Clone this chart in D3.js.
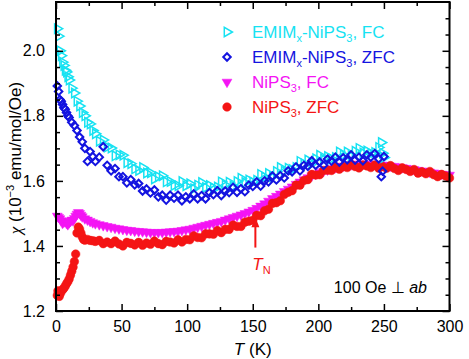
<!DOCTYPE html>
<html>
<head>
<meta charset="utf-8">
<script src="https://cdn.jsdelivr.net/npm/d3@7"></script>
<style>
  body { margin: 0; background: #fff; }
  text { font-family: "Liberation Sans", Arial, Helvetica, sans-serif; }
</style>
</head>
<body>
<div id="wrapper"></div>
<script>

// data (chi in 10^-3 emu/mol/Oe vs T in K)

const tEmim = [1,2,3,4,5,6,7,8,9,10,12,14,16,18,20,22,24,26,28,30,
  33,36,39,42,45,48,51,54,57,60,63,66,69,72,75,78,81,84,87,90,
  93,96,99,102,105,108,111,114,117,120,123,126,129,132,135,138,141,144,147,150,
  153,156,159,162,165,168,171,174,177,180,183,186,189,192,195,198,201,204,207,210,
  213,216,219,222,225,228,231,234,237,240,243,246,248,249,250];

const emimFC = [2.068,2.045,2.000,1.985,1.965,1.955,1.940,1.935,1.920,1.910,
  1.885,1.870,1.845,1.830,1.810,1.800,1.780,1.775,1.755,1.745,
  1.722,1.726,1.704,1.701,1.677,1.680,1.679,1.656,1.653,1.637,
  1.632,1.641,1.624,1.625,1.606,1.613,1.616,1.597,1.598,1.586,
  1.585,1.598,1.585,1.591,1.576,1.587,1.595,1.580,1.586,1.578,
  1.581,1.597,1.587,1.596,1.584,1.598,1.608,1.595,1.603,1.597,
  1.602,1.620,1.612,1.623,1.613,1.629,1.641,1.630,1.639,1.635,
  1.641,1.660,1.653,1.664,1.653,1.668,1.679,1.667,1.675,1.668,
  1.672,1.689,1.680,1.689,1.677,1.691,1.700,1.686,1.692,1.684,
  1.687,1.703,1.718,1.685,1.672];

const emimZFC = [1.892,1.875,1.850,1.845,1.835,1.825,1.820,1.810,1.800,1.795,
  1.780,1.770,1.755,1.735,1.720,1.700,1.660,1.690,1.675,1.660,
  1.673,1.705,1.648,1.631,1.638,1.613,1.613,1.594,1.604,1.588,
  1.592,1.569,1.575,1.563,1.572,1.551,1.556,1.541,1.556,1.547,
  1.556,1.539,1.551,1.545,1.560,1.545,1.555,1.545,1.564,1.558,
  1.570,1.555,1.569,1.564,1.580,1.565,1.576,1.567,1.587,1.583,
  1.597,1.584,1.600,1.597,1.615,1.603,1.616,1.609,1.631,1.628,
  1.643,1.631,1.648,1.645,1.662,1.648,1.658,1.648,1.667,1.661,
  1.673,1.658,1.671,1.665,1.680,1.664,1.673,1.662,1.680,1.673,
  1.684,1.668,1.613,1.630,1.675];

const tNiFC = [1,2,3,4,5,6,7,8,9,10,11,12,13,14,15,16,17,18,19,20,
  22,24,26,28,30,
  33,36,39,42,45,48,51,54,57,60,63,66,69,72,75,78,81,84,87,90,
  93,96,99,102,105,108,111,114,117,120,123,126,129,132,135,138,141,144,147,150,
  153,156,159,162,165,168,171,174,177,180,183,186,189,192,195,198,201,204,207,210,
  213,216,219,222,225,228,231,234,237,240,243,246,249,252,255,258,261,264,267,270,
  273,276,279,282,285,288,291,294,297,300];

const niFC = [1.492,1.488,1.484,1.478,1.470,1.474,1.476,1.470,1.466,1.472,
  1.476,1.480,1.478,1.485,1.492,1.498,1.503,1.500,1.495,1.490,
  1.484,1.480,1.476,1.472,1.469,
  1.466,1.463,1.460,1.458,1.455,1.453,1.451,1.449,1.448,1.446,
  1.445,1.444,1.443,1.442,1.442,1.442,1.442,1.443,1.444,1.445,
  1.446,1.448,1.450,1.452,1.455,1.458,1.461,1.464,1.467,1.470,
  1.473,1.476,1.480,1.484,1.488,1.492,1.496,1.500,1.505,1.510,
  1.516,1.523,1.530,1.538,1.546,1.553,1.560,1.568,1.575,1.582,
  1.590,1.597,1.604,1.610,1.616,1.621,1.626,1.630,1.634,1.638,
  1.641,1.644,1.646,1.648,1.650,1.651,1.652,1.652,1.652,1.652,
  1.651,1.650,1.649,1.648,1.646,1.645,1.643,1.641,1.639,1.637,
  1.635,1.633,1.631,1.629,1.627,1.625,1.623,1.621,1.620,1.618];

const tNiZFC = [1,1.5,2,2.5,3,3.5,4,5,6,7,8,9,10,11,12,13,14,15,16,17,18,19,20,21,
  22,24,26,28,30,
  33,36,39,42,45,48,51,54,57,60,63,66,69,72,75,78,81,84,87,90,
  93,96,99,102,105,108,111,114,117,120,123,126,129,132,135,138,141,144,147,150,
  153,156,159,162,165,168,171,174,177,180,183,186,189,192,195,198,201,204,207,210,
  213,216,219,222,225,228,231,234,237,240,243,246,249,252,255,258,261,264,267,270,
  273,276,279,282,285,288,291,294,297,300];

const niZFC = [1.248,1.262,1.252,1.245,1.258,1.255,1.262,
  1.265,1.270,1.276,1.284,1.290,1.298,1.310,1.322,1.335,1.352,1.375,1.440,1.458,1.452,1.440,1.428,1.420,
  1.418,1.420,1.417,1.416,1.414,
  1.417,1.407,1.412,1.407,1.415,1.406,1.400,1.411,1.408,1.403,
  1.411,1.402,1.409,1.405,1.415,1.407,1.404,1.414,1.412,1.409,
  1.419,1.412,1.420,1.419,1.431,1.426,1.425,1.437,1.437,1.436,
  1.447,1.441,1.451,1.451,1.464,1.460,1.460,1.473,1.476,1.479,
  1.494,1.493,1.508,1.513,1.531,1.533,1.539,1.558,1.565,1.570,
  1.587,1.587,1.601,1.604,1.620,1.618,1.619,1.632,1.633,1.632,
  1.643,1.636,1.644,1.641,1.651,1.644,1.640,1.649,1.646,1.641,
  1.649,1.639,1.644,1.639,1.647,1.638,1.632,1.640,1.635,1.629,
  1.635,1.624,1.628,1.622,1.629,1.619,1.613,1.620,1.615,1.609];

const xMajorTicks = [0, 50, 100, 150, 200, 250, 300];
const xMinorTicks = [25, 75, 125, 175, 225, 275];
const yMajorTicks = [1.2, 1.4, 1.6, 1.8, 2.0];
const yMinorTicks = [1.25, 1.3, 1.35, 1.45, 1.5, 1.55, 1.65, 1.7, 1.75, 1.85, 1.9, 1.95, 2.05, 2.1];

const tNeel = 152;

// series setup (drawing order: NiPS3 first, EMIM on top)

const series = [
  { name: "NiPS3 FC", t: tNiFC, v: niFC, color: "#f414f4", shape: "tri-down", fill: true },
  { name: "NiPS3 ZFC", t: tNiZFC, v: niZFC, color: "#f41414", shape: "circle", fill: true },
  { name: "EMIM FC", t: tEmim, v: emimFC, color: "#16e2f2", shape: "tri-right", fill: false },
  { name: "EMIM ZFC", t: tEmim, v: emimZFC, color: "#1414e0", shape: "diamond", fill: false }
];

// chart dimensions

const dms = {
  width: 469,
  height: 359,
  margins: { top: 2, right: 19.5, bottom: 48, left: 56 }
};
dms.innerWidth = dms.width - dms.margins.left - dms.margins.right;
dms.innerHeight = dms.height - dms.margins.top - dms.margins.bottom;

const svg = d3.select("#wrapper")
  .append("svg")
    .attr("width", dms.width)
    .attr("height", dms.height);

const inner = svg.append("g")
  .attr("transform", `translate(${dms.margins.left},${dms.margins.top})`);

// scales

const xScale = d3.scaleLinear().domain([0, 300]).range([0, dms.innerWidth]);
const yScale = d3.scaleLinear().domain([1.2, 2.15]).range([dms.innerHeight, 0]);

// symbols

const symbolPath = {
  "tri-down": d3.symbol(d3.symbolTriangle, 42)(),
  "tri-right": d3.symbol(d3.symbolTriangle, 38)(),
  "circle": d3.symbol(d3.symbolCircle, 58)(),
  "diamond": d3.symbol(d3.symbolSquare, 28)()
};
const symbolRotate = { "tri-down": 180, "tri-right": 90, "circle": 0, "diamond": 45 };

function placeMarks(sel, s) {
  sel.attr("d", symbolPath[s.shape])
    .attr("fill", s.fill ? s.color : "none")
    .attr("stroke", s.color)
    .attr("stroke-width", s.fill ? 0.5 : (s.shape === "diamond" ? 2 : 1.5));
}

series.forEach(s => {
  const pts = s.t.map((t, i) => ({ t, v: s.v[i] }));
  inner.append("g")
    .selectAll("path")
    .data(pts)
    .join("path")
      .attr("transform", d => `translate(${xScale(d.t)},${yScale(d.v)}) rotate(${symbolRotate[s.shape]})`)
      .call(placeMarks, s);
});

// axes

function styleAxis(g) {
  g.select(".domain").remove();
  g.selectAll(".tick line").attr("stroke", "#000").attr("stroke-width", 1.5);
  g.selectAll(".tick text").attr("fill", "#000").attr("font-size", 16)
    .attr("font-family", '"Liberation Sans", Arial, sans-serif');
}

inner.append("g")
  .attr("transform", `translate(0,${dms.innerHeight})`)
  .call(d3.axisBottom(xScale).tickValues(xMajorTicks).tickSize(-7).tickPadding(10).tickFormat(d3.format("d")))
  .call(styleAxis);
inner.append("g")
  .attr("transform", `translate(0,${dms.innerHeight})`)
  .call(d3.axisBottom(xScale).tickValues(xMinorTicks).tickSize(-4).tickFormat(""))
  .call(styleAxis);
inner.append("g")
  .call(d3.axisTop(xScale).tickValues(xMajorTicks).tickSize(-7).tickFormat(""))
  .call(styleAxis);
inner.append("g")
  .call(d3.axisTop(xScale).tickValues(xMinorTicks).tickSize(-4).tickFormat(""))
  .call(styleAxis);

inner.append("g")
  .call(d3.axisLeft(yScale).tickValues(yMajorTicks).tickSize(-7).tickPadding(11).tickFormat(d3.format(".1f")))
  .call(styleAxis);
inner.append("g")
  .call(d3.axisLeft(yScale).tickValues(yMinorTicks).tickSize(-4).tickFormat(""))
  .call(styleAxis);
inner.append("g")
  .attr("transform", `translate(${dms.innerWidth},0)`)
  .call(d3.axisRight(yScale).tickValues(yMajorTicks).tickSize(-7).tickFormat(""))
  .call(styleAxis);
inner.append("g")
  .attr("transform", `translate(${dms.innerWidth},0)`)
  .call(d3.axisRight(yScale).tickValues(yMinorTicks).tickSize(-4).tickFormat(""))
  .call(styleAxis);

inner.append("rect")
  .attr("width", dms.innerWidth)
  .attr("height", dms.innerHeight)
  .attr("fill", "none")
  .attr("stroke", "#000")
  .attr("stroke-width", 2);

// axis titles

const xTitle = svg.append("text")
  .attr("x", dms.margins.left + dms.innerWidth / 2)
  .attr("y", 355)
  .attr("text-anchor", "middle")
  .attr("font-size", 17);
xTitle.append("tspan").attr("font-style", "italic").text("T");
xTitle.append("tspan").text(" (K)");

const yTitle = svg.append("text")
  .attr("transform", `translate(21,158) rotate(-90)`)
  .attr("text-anchor", "middle")
  .attr("font-size", 17);
yTitle.append("tspan").attr("font-style", "italic")
  .attr("font-family", '"Liberation Serif", "DejaVu Serif", serif').text("χ");
yTitle.append("tspan").text(" (10");
yTitle.append("tspan").attr("font-size", 11).attr("dy", -7).text("−3");
yTitle.append("tspan").attr("dy", 7).text(" emu/mol/Oe)");

// legend

const legendRows = [
  { s: series[2], parts: [["EMIM", 0], ["x", 1], ["-NiPS", 0], ["3", 1], [", FC", 0]] },
  { s: series[3], parts: [["EMIM", 0], ["x", 1], ["-NiPS", 0], ["3", 1], [", ZFC", 0]] },
  { s: series[0], parts: [["NiPS", 0], ["3", 1], [", FC", 0]] },
  { s: series[1], parts: [["NiPS", 0], ["3", 1], [", ZFC", 0]] }
];

legendRows.forEach((row, i) => {
  const y = 38 + i * 25;
  svg.append("path")
    .attr("transform", `translate(227,${y - 6}) rotate(${symbolRotate[row.s.shape]})`)
    .call(placeMarks, row.s);
  const txt = svg.append("text")
    .attr("x", 252)
    .attr("y", y)
    .attr("font-size", 17)
    .attr("fill", row.s.color);
  let sub = false;
  row.parts.forEach(([str, isSub]) => {
    const ts = txt.append("tspan").text(str);
    if (isSub && !sub) { ts.attr("font-size", 11).attr("dy", 4); sub = true; }
    else if (!isSub && sub) { ts.attr("dy", -4); sub = false; }
  });
});

// annotations

const arrowX = xScale(tNeel);
const arrowTop = yScale(1.488);
const arrowBottom = yScale(1.395);
inner.append("line")
  .attr("x1", arrowX).attr("x2", arrowX)
  .attr("y1", arrowBottom).attr("y2", arrowTop + 8)
  .attr("stroke", "#f41414")
  .attr("stroke-width", 2);
inner.append("path")
  .attr("d", `M${arrowX},${arrowTop} L${arrowX - 4},${arrowTop + 10} L${arrowX + 4},${arrowTop + 10} Z`)
  .attr("fill", "#f41414");

const tn = inner.append("text")
  .attr("x", arrowX - 3)
  .attr("y", yScale(1.326))
  .attr("font-size", 17)
  .attr("fill", "#f41414");
tn.append("tspan").attr("font-style", "italic").text("T");
tn.append("tspan").attr("font-size", 11).attr("dy", 4).text("N");

const field = svg.append("text")
  .attr("x", 427)
  .attr("y", 293)
  .attr("text-anchor", "end")
  .attr("font-size", 16)
  .attr("fill", "#000");
field.append("tspan").text("100 Oe ⊥ ");
field.append("tspan").attr("font-style", "italic").text("ab");

</script>
</body>
</html>
